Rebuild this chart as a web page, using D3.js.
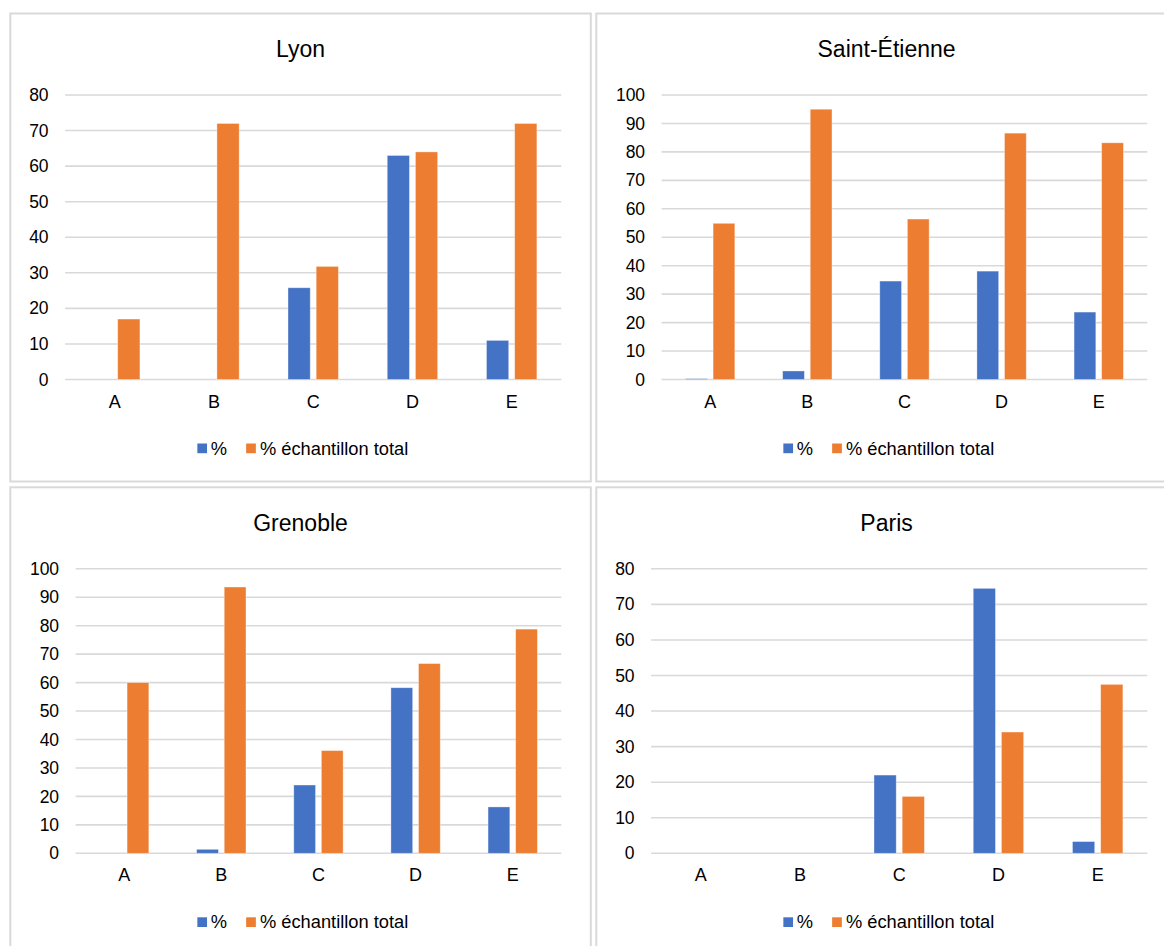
<!DOCTYPE html>
<html>
<head>
<meta charset="utf-8">
<script src="https://cdn.jsdelivr.net/npm/d3@7"></script>
<style>
  html, body { margin: 0; padding: 0; background: #fff; }
  svg { display: block; }
  text { font-family: "Liberation Sans", Arial, sans-serif; fill: #000; }
</style>
</head>
<body>
<svg id="chart" width="1164" height="946"></svg>
<script>
// ---- data ----
const categories = ["A", "B", "C", "D", "E"];
const cities = ["Lyon", "Saint-Étienne", "Grenoble", "Paris"];
const seriesNames = ["%", "% échantillon total"];
const lyonPct = [0, 0, 25.8, 63, 11];
const lyonTotal = [17, 72, 31.8, 64, 72];
const stEtiennePct = [0.3, 3, 34.6, 38.1, 23.7];
const stEtienneTotal = [54.9, 95, 56.4, 86.6, 83.2];
const grenoblePct = [0, 1.4, 24, 58.2, 16.3];
const grenobleTotal = [60, 93.6, 36.1, 66.7, 78.8];
const parisPct = [0, 0, 22, 74.5, 3.3];
const parisTotal = [0, 0, 16, 34.1, 47.5];
const yMaxes = [80, 100, 100, 80];
const tickStep = 10;
const colors = ["#4472C4", "#ED7D31"];

const panelsData = [
  { name: cities[0], pct: lyonPct, total: lyonTotal, yMax: yMaxes[0] },
  { name: cities[1], pct: stEtiennePct, total: stEtienneTotal, yMax: yMaxes[1] },
  { name: cities[2], pct: grenoblePct, total: grenobleTotal, yMax: yMaxes[2] },
  { name: cities[3], pct: parisPct, total: parisTotal, yMax: yMaxes[3] }
];

// ---- layout ----
const svg = d3.select("#chart");
const panelW = 580.5, panelH = 468;
const panelX = [10.3, 596.3], panelY = [13.5, 487.3];

panelsData.forEach((p, i) => {
  const px = panelX[i % 2], py = panelY[Math.floor(i / 2)];
  const g = svg.append("g");
  g.append("rect")
    .attr("x", px).attr("y", py).attr("width", panelW).attr("height", panelH)
    .attr("fill", "#fff").attr("stroke", "#d9d9d9").attr("stroke-width", 2);

  const cx = px + panelW / 2;
  g.append("text").attr("x", cx).attr("y", py + 43.8)
    .attr("text-anchor", "middle").style("font-size", "23px").text(p.name);

  const threeDigits = p.yMax >= 100;
  const plotL = px + (threeDigits ? 65.3 : 54.8);
  const plotR = px + panelW - 29.5;
  const plotT = py + 81.5, plotB = py + 366;

  const x = d3.scaleBand().domain(categories).range([plotL, plotR]).padding(0);
  const y = d3.scaleLinear().domain([0, p.yMax]).range([plotB, plotT]);
  const ticks = d3.range(0, p.yMax + 0.001, tickStep);

  // gridlines
  g.append("g").selectAll("line").data(ticks).join("line")
    .attr("x1", plotL).attr("x2", plotR)
    .attr("y1", d => y(d)).attr("y2", d => y(d))
    .attr("stroke", "#d9d9d9").attr("stroke-width", 1.6);

  // y axis labels via d3 axis
  const yAxis = d3.axisLeft(y).tickValues(ticks).tickSize(0).tickPadding(16.5);
  const ya = g.append("g").attr("transform", `translate(${plotL},0)`).call(yAxis);
  ya.select(".domain").remove();
  ya.selectAll("text").style("font-size", "17.5px").attr("fill", "#000")
    .style("font-family", '"Liberation Sans", Arial, sans-serif');

  // x axis labels
  const xAxis = d3.axisBottom(x).tickSize(0).tickPadding(15.4);
  const xa = g.append("g").attr("transform", `translate(0,${plotB})`).call(xAxis);
  xa.select(".domain").remove();
  xa.selectAll("text").style("font-size", "18px").attr("fill", "#000")
    .style("font-family", '"Liberation Sans", Arial, sans-serif');

  // bars
  const bw = x.bandwidth();
  const barW = bw * 0.224, gap = bw * 0.06;
  const series = [p.pct, p.total];
  series.forEach((vals, s) => {
    g.append("g").selectAll("rect").data(categories).join("rect")
      .attr("x", c => x(c) + bw / 2 + (s === 0 ? -gap / 2 - barW : gap / 2))
      .attr("width", barW)
      .attr("y", (c, k) => y(vals[k]))
      .attr("height", (c, k) => y(0) - y(vals[k]))
      .attr("fill", colors[s])
      .attr("stroke", "rgba(255,255,255,0.45)").attr("stroke-width", 0.8);
  });

  // legend
  const legY = plotB + 64;
  const lg = g.append("g");
  const symX = [cx - 103.2, cx - 54.4];
  const txtX = [cx - 89.8, cx - 40.6];
  seriesNames.forEach((n, s) => {
    lg.append("rect").attr("x", symX[s]).attr("y", legY)
      .attr("width", 9.7).attr("height", 9.7).attr("fill", colors[s]);
    lg.append("text").attr("x", txtX[s]).attr("y", legY + 11)
      .style("font-size", "18.3px").text(n);
  });
});
</script>
</body>
</html>
